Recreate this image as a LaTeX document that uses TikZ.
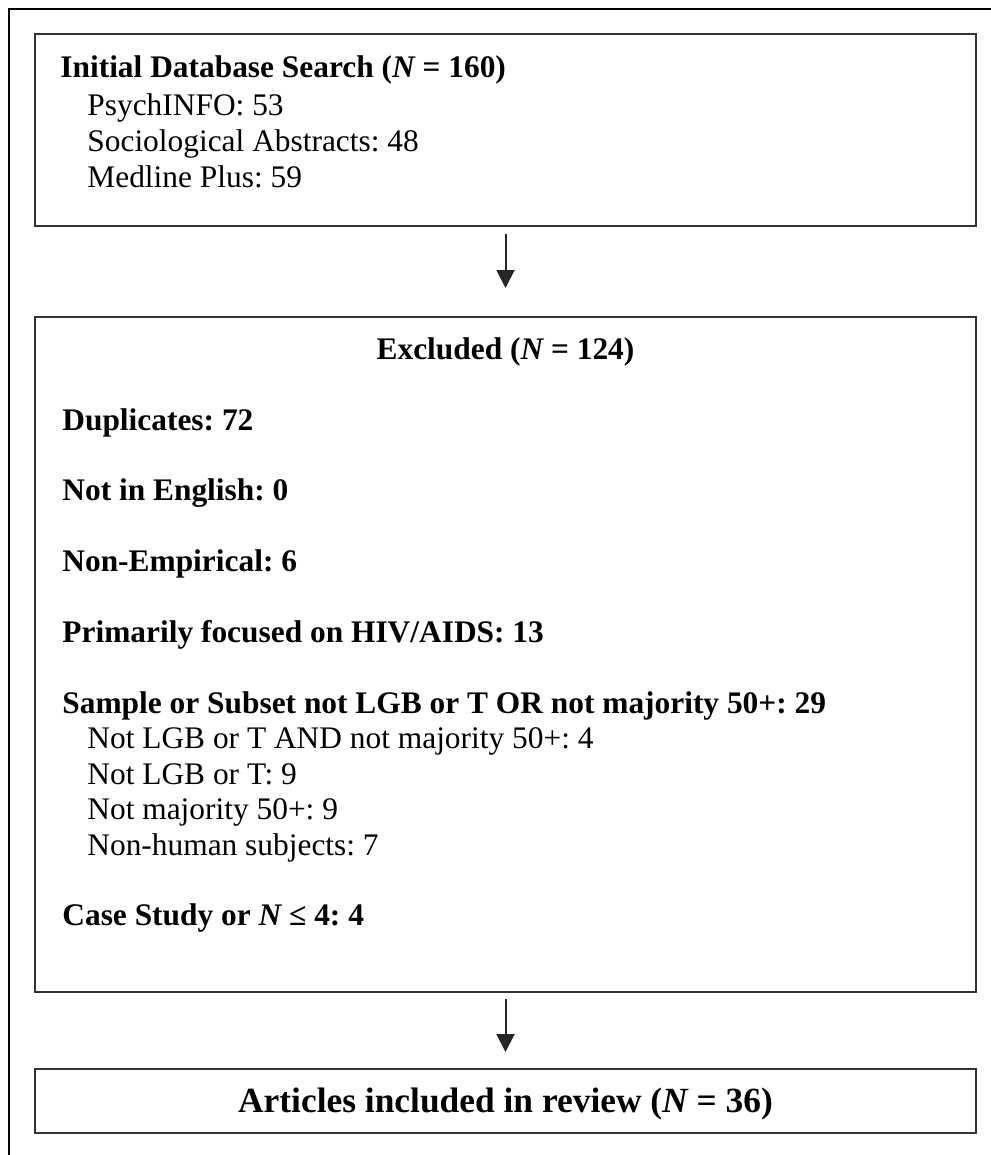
\documentclass[tikz,border=0pt]{standalone}
\usepackage{fontspec}
\setmainfont{Liberation Serif}
\usetikzlibrary{arrows.meta}
\frenchspacing

\begin{document}
\begin{tikzpicture}[x=0.5pt, y=-0.5pt,
        box/.style={draw=black!80, line width=1pt, minimum width=470.5pt, inner sep=0pt},
        head/.style={anchor=base west, inner sep=0pt, font=\fontsize{15.7}{18}\selectfont\bfseries},
        sub/.style={anchor=base west, inner sep=0pt, font=\fontsize{15.7}{18}\selectfont},
        flow/.style={black!85, line width=1pt, -{Triangle[length=9pt, width=9pt]}}]

        \useasboundingbox (0,0) rectangle (990,1155);
        \draw[line width=1.4pt] (9,1160) -- (9,9) -- (1000,9);

        % boxes
        \node[box, minimum height=96pt] (search) at (505.5,130) {};
        \node[box, minimum height=337.5pt] (excluded) at (505.5,654.5) {};
        \node[box, minimum height=32pt] (included) at (505.5,1101) {};

        % search box
        \node[head] (s0) at (60,78) {Initial Database Search ({\itshape N} = 160)};
        \node[sub] (s1) at (87,116) {PsychINFO: 53};
        \node[sub] (s2) at (87,152) {Sociological Abstracts: 48};
        \node[sub] (s3) at (87,188) {Medline Plus: 59};

        % excluded box
        \node[head, anchor=base] (e0) at (505.5,359) {Excluded ({\itshape N} = 124)};
        \node[head] (e1) at (62,430) {Duplicates: 72};
        \node[head] (e2) at (62,500) {Not in English: 0};
        \node[head] (e3) at (62,571) {Non-Empirical: 6};
        \node[head] (e4) at (62,642) {Primarily focused on HIV/AIDS: 13};
        \node[head] (e5) at (62,713) {Sample or Subset not LGB or T OR not majority 50+: 29};
        \node[sub] (e5a) at (87,748) {Not LGB or T AND not majority 50+: 4};
        \node[sub] (e5b) at (87,784) {Not LGB or T: 9};
        \node[sub] (e5c) at (87,819) {Not majority 50+: 9};
        \node[sub] (e5d) at (87,855) {Non-human subjects: 7};
        \node[head] (e6) at (62,925) {Case Study or {\itshape N} ≤ 4: 4};

        % included box
        \node[head, anchor=base, font=\fontsize{17.7}{20}\selectfont\bfseries] (i0) at (505.5,1112) {Articles included in review ({\itshape N} = 36)};

        \draw[flow, shorten <=3.5pt, shorten >=14pt] (search) -- (excluded);
        \draw[flow, shorten <=3pt, shorten >=8pt] (excluded) -- (included);

\end{tikzpicture}
\end{document}
